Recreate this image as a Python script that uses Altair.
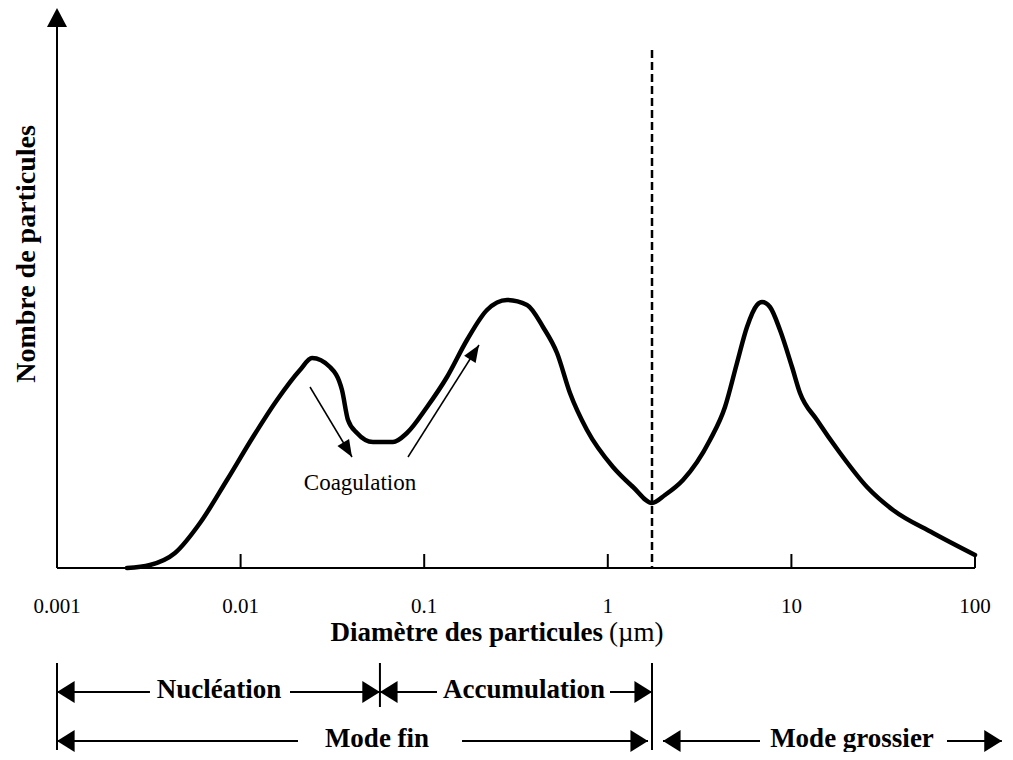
import altair as alt
import pandas as pd

# ---------------- data ----------------
curve_diam = [0.002405, 0.003209, 0.004392, 0.006009, 0.008430, 0.01168, 0.01579, 0.02106, 0.02449,
              0.03068, 0.03566, 0.03846, 0.04305, 0.05262, 0.06762, 0.08056, 0.1036, 0.1331, 0.1710,
              0.2198, 0.2825, 0.3631, 0.4437, 0.5289, 0.6222, 0.7702, 1.067, 1.372, 1.741,
              2.049, 2.568, 3.603, 4.348, 5.054, 5.730, 6.496, 6.918, 7.644, 8.667, 10.08, 11.14,
              13.78, 18.40, 25.81, 35.76, 59.05, 100.0]
curve_count = [0, 3, 15, 45, 88, 131, 168, 198, 210,
               201, 178, 148, 135, 126, 126, 135, 161, 191, 228,
               258, 268, 263, 241, 215, 175, 138, 101, 81, 65,
               73, 88, 128, 161, 205, 241, 263, 266, 261, 238, 201, 175,
               148, 115, 81, 58, 35, 13]

tick_values = [0.001, 0.01, 0.1, 1, 10, 100]
tick_labels = ["0.001", "0.01", "0.1", "1", "10", "100"]

axis_x_range = [0.001, 100]
axis_y_range = [0, 545]
axis_y_tip = 560

fine_coarse_cut = 1.741
nucl_accum_cut = 0.0574
dashed_top = 518

coag_from_x = [0.02388, 0.08160]
coag_from_y = [181, 111]
coag_to_x = [0.04044, 0.1988]
coag_to_y = [111, 223]
coag_angle = [149, 32.4]
coag_label = ["Coagulation"]
coag_label_x = [0.04471]
coag_label_y = [78]

row1_from = [0.001, 0.01858, 0.0574, 1.028]
row1_to = [0.003209, 0.0574, 0.1174, 1.741]
row1_left_heads = [0.001, 0.0574]
row1_right_heads = [0.0574, 1.741]
row1_labels = ["Nucléation", "Accumulation"]
row1_label_x = [0.007627, 0.3497]

row2_from = [0.001, 0.1607, 1.998, 70.38]
row2_to = [0.02054, 1.656, 6.745, 140.0]
row2_left_heads = [0.001, 1.998]
row2_right_heads = [1.656, 140.0]
row2_labels = ["Mode fin", "Mode grossier"]
row2_label_x = [0.05533, 21.38]

long_bars = [0.001, 1.741]
short_bars = [0.0574]

# ---------------- style ----------------
FONT = "Liberation Serif"
XS = alt.Scale(type="log", domain=[0.001, 100])
YS = alt.Scale(domain=[0, 560])
HEAD_RIGHT = "M0,0L-1.6,-1L-1.6,1Z"
HEAD_LEFT = "M0,0L1.6,-1L1.6,1Z"
HEAD_UP = "M0,0L1,1.9L-1,1.9Z"
HEAD_SLIM = "M0,0L0.8,2L-0.8,2Z"

ROW1_Y = 684
ROW2_Y = 733


def X(f):
    return alt.X(f"{f}:Q", scale=XS, axis=None)


def Y(f):
    return alt.Y(f"{f}:Q", scale=YS, axis=None)


curve = alt.Chart(pd.DataFrame({"d": curve_diam, "n": curve_count})).mark_line(
    color="black", strokeWidth=4.5, interpolate="monotone", strokeCap="round", strokeJoin="round"
).encode(x=X("d"), y=Y("n"))

x_axis_line = alt.Chart(pd.DataFrame({"a": [axis_x_range[0]], "b": [axis_x_range[1]], "n": [0]})).mark_rule(
    color="black", strokeWidth=2
).encode(x=X("a"), x2="b:Q", y=Y("n"))

y_axis_line = alt.Chart(pd.DataFrame({"d": [axis_x_range[0]], "a": [axis_y_range[0]], "b": [axis_y_range[1]]})).mark_rule(
    color="black", strokeWidth=2
).encode(x=X("d"), y=Y("a"), y2="b:Q")

y_head = alt.Chart(pd.DataFrame({"d": [axis_x_range[0]], "n": [axis_y_tip]})).mark_point(
    shape=HEAD_UP, filled=True, size=400, color="black", opacity=1, strokeWidth=0
).encode(x=X("d"), y=Y("n"))

ticks = alt.Chart(pd.DataFrame({"d": tick_values[1:]})).mark_rule(color="black", strokeWidth=2).encode(
    x=X("d"), y=alt.value(546), y2=alt.value(560)
)

tick_text = alt.Chart(pd.DataFrame({"d": tick_values, "t": tick_labels})).mark_text(
    font=FONT, fontSize=21, color="black", baseline="alphabetic", align="center"
).encode(x=X("d"), y=alt.value(605), text="t:N")

dashed = alt.Chart(pd.DataFrame({"d": [fine_coarse_cut], "n": [dashed_top], "n0": [0]})).mark_rule(
    color="black", strokeWidth=2.5, strokeDash=[8, 4]
).encode(x=X("d"), y=Y("n"), y2="n0:Q")

coag_df = pd.DataFrame({"x": coag_from_x, "y": coag_from_y, "x2": coag_to_x, "y2": coag_to_y, "a": coag_angle})
coag_lines = alt.Chart(coag_df).mark_rule(color="black", strokeWidth=1.5).encode(
    x=X("x"), y=Y("y"), x2="x2:Q", y2="y2:Q"
)
coag_heads = alt.Chart(coag_df).mark_point(
    shape=HEAD_SLIM, filled=True, size=289, color="black", opacity=1, strokeWidth=0
).encode(x=X("x2"), y=Y("y2"), angle=alt.Angle("a:Q", scale=None))
coag_text = alt.Chart(pd.DataFrame({"x": coag_label_x, "y": coag_label_y, "t": coag_label})).mark_text(
    font=FONT, fontSize=23, color="black", baseline="alphabetic", align="center"
).encode(x=X("x"), y=Y("y"), text="t:N")

y_title = alt.Chart(pd.DataFrame({"t": ["Nombre de particules"]})).mark_text(
    font=FONT, fontSize=28, fontWeight="bold", color="black", angle=270, baseline="alphabetic", align="center"
).encode(x=alt.value(-22), y=alt.value(246), text="t:N")

x_title_a = alt.Chart(pd.DataFrame({"t": ["Diamètre des particules"]})).mark_text(
    font=FONT, fontSize=27, fontWeight="bold", color="black", baseline="alphabetic", align="right"
).encode(x=alt.value(546), y=alt.value(633), text="t:N")
x_title_b = alt.Chart(pd.DataFrame({"t": ["(µm)"]})).mark_text(
    font=FONT, fontSize=27, color="black", baseline="alphabetic", align="left"
).encode(x=alt.value(552), y=alt.value(633), text="t:N")


def row_layers(froms, tos, lefts, rights, labels, label_x, yv):
    segs = alt.Chart(pd.DataFrame({"a": froms, "b": tos})).mark_rule(color="black", strokeWidth=2).encode(
        x=X("a"), x2="b:Q", y=alt.value(yv)
    )
    lh = alt.Chart(pd.DataFrame({"d": lefts})).mark_point(
        shape=HEAD_LEFT, filled=True, size=484, color="black", opacity=1, strokeWidth=0
    ).encode(x=X("d"), y=alt.value(yv))
    rh = alt.Chart(pd.DataFrame({"d": rights})).mark_point(
        shape=HEAD_RIGHT, filled=True, size=484, color="black", opacity=1, strokeWidth=0
    ).encode(x=X("d"), y=alt.value(yv))
    txt = alt.Chart(pd.DataFrame({"d": label_x, "t": labels})).mark_text(
        font=FONT, fontSize=27, fontWeight="bold", color="black", baseline="alphabetic", align="center"
    ).encode(x=X("d"), y=alt.value(yv + 6), text="t:N")
    return [segs, lh, rh, txt]


row1 = row_layers(row1_from, row1_to, row1_left_heads, row1_right_heads, row1_labels, row1_label_x, ROW1_Y)
row2 = row_layers(row2_from, row2_to, row2_left_heads, row2_right_heads, row2_labels, row2_label_x, ROW2_Y)

bars_long = alt.Chart(pd.DataFrame({"d": long_bars})).mark_rule(color="black", strokeWidth=2).encode(
    x=X("d"), y=alt.value(655), y2=alt.value(742)
)
bars_short = alt.Chart(pd.DataFrame({"d": short_bars})).mark_rule(color="black", strokeWidth=2).encode(
    x=X("d"), y=alt.value(655), y2=alt.value(699)
)

chart = alt.layer(
    x_axis_line, y_axis_line, y_head, ticks, tick_text, dashed, curve, coag_lines, coag_heads, coag_text,
    y_title, x_title_a, x_title_b, bars_long, bars_short, *row1, *row2
).properties(
    width=918, height=560,
    background="white",
    autosize=alt.AutoSizeParams(type="none"),
    padding={"left": 49, "top": 0, "right": 30, "bottom": 184},
).configure_view(stroke=None)

chart.save("out.html", embed_options={"renderer": "svg", "actions": False})
